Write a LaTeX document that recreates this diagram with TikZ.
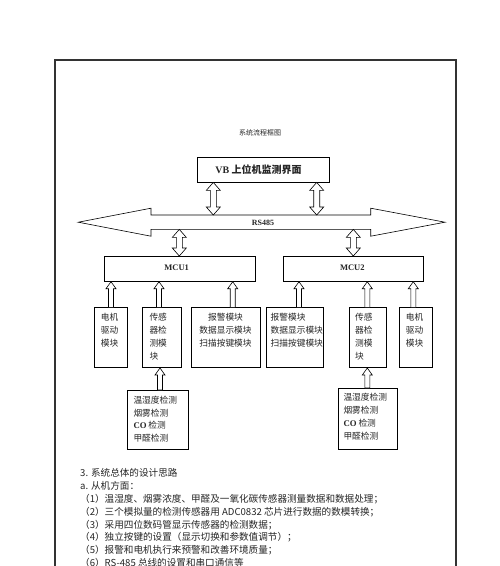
\documentclass[tikz,border=0pt]{standalone}
\usepackage{fontspec}
\setmainfont{Liberation Serif}
\newfontfamily\cjk{Noto Sans CJK SC}
\usetikzlibrary{calc}
\tikzset{
  box/.style={draw=black, line width=0.7pt, inner sep=0pt, anchor=north west},
  txt/.style={inner sep=0pt, anchor=north west, align=left, text=black!85, font=\cjk\fontsize{8.7}{13}\selectfont},
  lbl/.style={inner sep=0pt, text=black!85},
  blk/.style={draw=black, line width=0.6pt, fill=white, line join=miter},
}
% single hollow up arrow: x, top node, bottom node
\newcommand{\uparr}[3]{%
  \draw[blk] let \p1=(#2.south), \p2=(#3.north) in
    (#1pt,\y1) -- (#1pt+5pt,\y1-7pt) -- (#1pt+2.5pt,\y1-7pt) -- (#1pt+2.5pt,\y2)
    -- (#1pt-2.5pt,\y2) -- (#1pt-2.5pt,\y1-7pt) -- (#1pt-5pt,\y1-7pt) -- cycle;}
% hollow double arrow: x, top node, bottom node
\newcommand{\dbarr}[3]{%
  \draw[blk] let \p1=(#2.south), \p2=(#3.north) in
    (#1pt,\y1) -- (#1pt+7pt,\y1-8pt) -- (#1pt+3pt,\y1-8pt) -- (#1pt+3pt,\y2+8pt)
    -- (#1pt+7pt,\y2+8pt) -- (#1pt,\y2) -- (#1pt-7pt,\y2+8pt) -- (#1pt-3pt,\y2+8pt)
    -- (#1pt-3pt,\y1-8pt) -- (#1pt-7pt,\y1-8pt) -- cycle;}
\begin{document}
\begin{tikzpicture}[x=1pt,y=-1pt]
\useasboundingbox (0,0) rectangle (500,566);
\clip (0,0) rectangle (500,566);
\fill[white] (0,0) rectangle (500,566);
% frame
\draw[line width=2pt, draw=black!80] (55,600) -- (55,60.3) -- (456.3,60.3) -- (456.3,600);
% title
\node[lbl, font=\cjk\fontsize{7}{8}\selectfont] (title) at (260,133) {系统流程框图};
% VB box
\node[box, minimum width=132pt, minimum height=24.4pt] (vb) at (197.3,157.3) {};
\node[lbl, font=\fontsize{10}{12}\selectfont] (vbt) at (258.5,170) {\textbf{VB} {\cjk\bfseries 上位机监测界面}};
% bus
\node[inner sep=0pt, outer sep=0pt, minimum width=219.7pt, minimum height=14.4pt] (bus) at (260.85,222.2) {};
\draw[blk] (78.3,222.2) -- (151,208.2) -- (bus.north west) -- (bus.north east) -- (370.7,208.2)
  -- (445,222.2) -- (370.7,236.2) -- (bus.south east) -- (bus.south west) -- (151,236.2) -- cycle;
\node[lbl, font=\bfseries\fontsize{8}{10}\selectfont] (rs) at (263,222.4) {RS485};
% MCU boxes
\node[box, minimum width=151pt, minimum height=25pt] (mcu1) at (103.5,256) {};
\node[box, minimum width=140.6pt, minimum height=25pt] (mcu2) at (282.7,256) {};
\node[lbl, font=\bfseries\fontsize{8.5}{10}\selectfont] (mcu1t) at (176.7,267.8) {MCU1};
\node[lbl, font=\bfseries\fontsize{8.5}{10}\selectfont] (mcu2t) at (352.3,267.8) {MCU2};
% modules left
\node[box, minimum width=32.7pt, minimum height=60pt] (m1a) at (94,307.3) {};
\node[box, minimum width=38.4pt, minimum height=60pt] (m1b) at (142.3,307.3) {};
\node[box, minimum width=69pt, minimum height=60pt] (m1c) at (191,307.3) {};
\node[box, minimum width=61pt, minimum height=59.3pt] (s1) at (127,390) {};
\node[txt] (m1at) at (100.7,312.7) {电机\\驱动\\模块};
\node[txt] (m1bt) at (149.3,312.7) {传感\\器检\\测模\\块};
\node[txt, align=center, anchor=north] (m1ct) at (225.5,312.7) {报警模块\\数据显示模块\\扫描按键模块};
\node[txt, font=\cjk\fontsize{8.7}{12.8}\selectfont] (s1t) at (133.3,395.7) {温湿度检测\\烟雾检测\\{\rmfamily\bfseries CO} 检测\\甲醛检测};
% modules right
\node[box, minimum width=57pt, minimum height=60pt] (m2c) at (265.7,307.3) {};
\node[box, minimum width=37pt, minimum height=60pt] (m2b) at (348.7,307.3) {};
\node[box, minimum width=33.3pt, minimum height=60pt] (m2a) at (399,307.3) {};
\node[box, minimum width=59.5pt, minimum height=61pt] (s2) at (337.7,388) {};
\node[txt] (m2ct) at (270.5,312.7) {报警模块\\数据显示模块\\扫描按键模块};
\node[txt] (m2bt) at (355,312.7) {传感\\器检\\测模\\块};
\node[txt] (m2at) at (405.7,312.7) {电机\\驱动\\模块};
\node[txt, font=\cjk\fontsize{8.7}{13}\selectfont] (s2t) at (343.3,392.5) {温湿度检测\\烟雾检测\\{\rmfamily\bfseries CO} 检测\\甲醛检测};
% arrows
\dbarr{213.3}{vb}{bus}
\dbarr{316.7}{vb}{bus}
\dbarr{179.3}{bus}{mcu1}
\dbarr{353.3}{bus}{mcu2}
\uparr{111}{mcu1}{m1a}
\uparr{159}{mcu1}{m1b}
\uparr{232.7}{mcu1}{m1c}
\uparr{299}{mcu2}{m2c}
\uparr{367.3}{mcu2}{m2b}
\uparr{413.3}{mcu2}{m2a}
\uparr{160}{m1b}{s1}
\uparr{367.3}{m2b}{s2}
% paragraph
\node[txt, font=\cjk\fontsize{9.6}{12.8}\selectfont] (para) at (80,468.5) {3. 系统总体的设计思路\\a. 从机方面：\\（1）温湿度、烟雾浓度、甲醛及一氧化碳传感器测量数据和数据处理；\\（2）三个模拟量的检测传感器用 ADC0832 芯片进行数据的数模转换；\\（3）采用四位数码管显示传感器的检测数据；\\（4）独立按键的设置（显示切换和参数值调节）；\\（5）报警和电机执行来预警和改善环境质量；\\（6）RS-485 总线的设置和串口通信等};
\end{tikzpicture}
\end{document}
